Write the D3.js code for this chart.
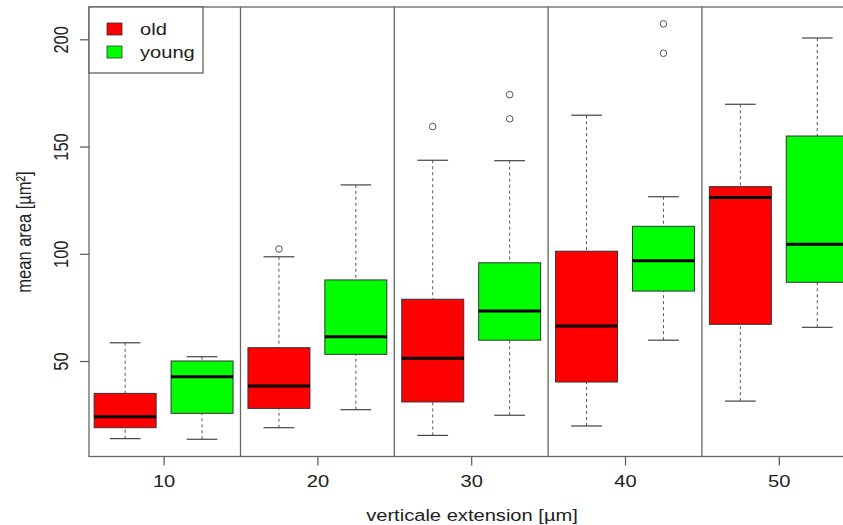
<!DOCTYPE html>
<html>
<head>
<meta charset="utf-8">
<script src="https://cdn.jsdelivr.net/npm/d3@7"></script>
<style>
  body { margin: 0; background: #fff; }
  text { font-family: "Liberation Sans", Arial, sans-serif; fill: #222; }
</style>
</head>
<body>
<div id="chart"></div>
<script>
const width = 843;
const height = 525;

// x positions (µm) and the two groups
const extensions = [10, 20, 30, 40, 50];
const groups = ["old", "young"];
const groupColors = ["#ff0000", "#00ff00"];

// five-number summaries: [lower whisker, q1, median, q3, upper whisker]
const oldStats = [
    [13.8, 18.9, 24.0, 34.9, 58.5],
    [18.9, 27.9, 38.3, 56.2, 98.6],
    [15.3, 30.9, 51.3, 78.8, 143.6],
    [19.7, 40.2, 66.3, 101.2, 164.6],
    [31.3, 67.1, 126.2, 131.3, 169.7]
];
const youngStats = [
    [13.5, 25.6, 42.7, 50.0, 52.0],
    [27.3, 53.1, 61.3, 87.8, 132.1],
    [24.7, 59.7, 73.3, 95.8, 143.4],
    [59.7, 82.6, 96.8, 112.8, 126.6],
    [65.7, 86.7, 104.4, 154.9, 200.6]
];
const oldOutliers = [[], [102.2], [159.3], [], []];
const youngOutliers = [[], [], [174.2, 162.9], [207.2, 193.5], []];

const yTicks = [50, 100, 150, 200];
const dividers = [15, 25, 35, 45];

// the picture is a little wider than tall, so horizontal text is stretched
const stretch = 1.22;

function ready() {
    const svg = d3.select("#chart")
        .append("svg")
        .attr("width", width)
        .attr("height", height);

    const x = d3.scaleLinear().domain([5.15, 54.85]).range([89, 853.4]);
    const y = d3.scaleLinear().domain([5.47, 215.06]).range([456.5, 7]);

    const offset = 2.5;     // group offset in x units
    const boxWidth = 4.03;  // box width in x units
    const capWidth = 2;

    const series = [
        { name: "old", stats: oldStats, outliers: oldOutliers, shift: -offset, color: groupColors[0] },
        { name: "young", stats: youngStats, outliers: youngOutliers, shift: offset, color: groupColors[1] }
    ];

    const plot = svg.append("g");

    series.forEach((s) => {
        const g = plot.append("g").attr("class", "series-" + s.name);
        const rows = s.stats.map((d, i) => ({ at: extensions[i] + s.shift, v: d, out: s.outliers[i] }));

        // whiskers
        g.selectAll("line.whisk-lo").data(rows).enter().append("line")
            .attr("x1", (d) => x(d.at)).attr("x2", (d) => x(d.at))
            .attr("y1", (d) => y(d.v[0])).attr("y2", (d) => y(d.v[1]))
            .attr("stroke", "#555").attr("stroke-width", 1).attr("stroke-dasharray", "3,3");
        g.selectAll("line.whisk-hi").data(rows).enter().append("line")
            .attr("x1", (d) => x(d.at)).attr("x2", (d) => x(d.at))
            .attr("y1", (d) => y(d.v[4])).attr("y2", (d) => y(d.v[3]))
            .attr("stroke", "#555").attr("stroke-width", 1).attr("stroke-dasharray", "3,3");
        // caps
        [0, 4].forEach((k) => {
            g.selectAll("line.cap" + k).data(rows).enter().append("line")
                .attr("x1", (d) => x(d.at - capWidth / 2)).attr("x2", (d) => x(d.at + capWidth / 2))
                .attr("y1", (d) => y(d.v[k])).attr("y2", (d) => y(d.v[k]))
                .attr("stroke", "#444").attr("stroke-width", 1.2);
        });
        // boxes
        g.selectAll("rect").data(rows).enter().append("rect")
            .attr("x", (d) => x(d.at - boxWidth / 2))
            .attr("width", (d) => x(d.at + boxWidth / 2) - x(d.at - boxWidth / 2))
            .attr("y", (d) => y(d.v[3]))
            .attr("height", (d) => y(d.v[1]) - y(d.v[3]))
            .attr("fill", s.color)
            .attr("stroke", "#333").attr("stroke-width", 1);
        // medians
        g.selectAll("line.median").data(rows).enter().append("line")
            .attr("x1", (d) => x(d.at - boxWidth / 2)).attr("x2", (d) => x(d.at + boxWidth / 2))
            .attr("y1", (d) => y(d.v[2])).attr("y2", (d) => y(d.v[2]))
            .attr("stroke", "#000").attr("stroke-width", 3);
        // outliers
        const pts = rows.flatMap((d) => d.out.map((o) => ({ at: d.at, v: o })));
        g.selectAll("circle").data(pts).enter().append("circle")
            .attr("cx", (d) => x(d.at)).attr("cy", (d) => y(d.v))
            .attr("r", 3.3).attr("fill", "none").attr("stroke", "#555").attr("stroke-width", 1);
    });

    // group dividers
    plot.selectAll("line.divider").data(dividers).enter().append("line")
        .attr("x1", (d) => x(d)).attr("x2", (d) => x(d))
        .attr("y1", y.range()[0]).attr("y2", y.range()[1])
        .attr("stroke", "#666").attr("stroke-width", 1.3);

    // frame
    svg.append("rect")
        .attr("x", x.range()[0]).attr("y", y.range()[1])
        .attr("width", x.range()[1] - x.range()[0])
        .attr("height", y.range()[0] - y.range()[1])
        .attr("fill", "none").attr("stroke", "#666").attr("stroke-width", 1.3);

    // axes
    const xAxis = svg.append("g")
        .attr("transform", "translate(0," + y.range()[0] + ")")
        .call(d3.axisBottom(x).tickValues(extensions).tickSize(9));
    const yAxis = svg.append("g")
        .attr("transform", "translate(" + x.range()[0] + ",0)")
        .call(d3.axisLeft(y).tickValues(yTicks).tickSize(9));
    [xAxis, yAxis].forEach((a) => {
        a.select(".domain").remove();
        a.selectAll(".tick line").attr("stroke", "#555").attr("stroke-width", 1.2);
        a.selectAll(".tick text").style("font-size", "16.5px").attr("fill", "#222");
    });
    xAxis.selectAll(".tick text")
        .attr("y", null).attr("dy", null)
        .attr("transform", "translate(0,30) scale(" + stretch + ",1)");
    yAxis.selectAll(".tick text")
        .attr("text-anchor", "middle")
        .attr("x", null).attr("dy", null)
        .attr("transform", "translate(-21,0) rotate(-90) scale(1," + stretch + ")");

    // axis titles
    svg.append("text")
        .attr("transform", "translate(472,521) scale(" + stretch + ",1)")
        .attr("text-anchor", "middle")
        .style("font-size", "16.5px")
        .text("verticale extension [µm]");
    svg.append("text")
        .attr("transform", "translate(31,232) rotate(-90) scale(1," + stretch + ")")
        .attr("text-anchor", "middle")
        .style("font-size", "16.5px")
        .text("mean area [µm²]");

    // legend
    const legend = svg.append("g");
    legend.append("rect")
        .attr("x", 89).attr("y", 7).attr("width", 114).attr("height", 66)
        .attr("fill", "#fff").attr("stroke", "#555").attr("stroke-width", 1.2);
    const items = legend.selectAll("g.item").data(groups).enter().append("g")
        .attr("transform", (d, i) => "translate(0," + (29 + i * 23) + ")");
    items.append("rect")
        .attr("x", 107).attr("y", -6).attr("width", 15).attr("height", 12)
        .attr("fill", (d, i) => groupColors[i]).attr("stroke", "#333").attr("stroke-width", 0.8);
    items.append("text")
        .attr("transform", "translate(140,6) scale(" + stretch + ",1)")
        .style("font-size", "16.5px")
        .text((d) => d);
}

ready();
</script>
</body>
</html>
